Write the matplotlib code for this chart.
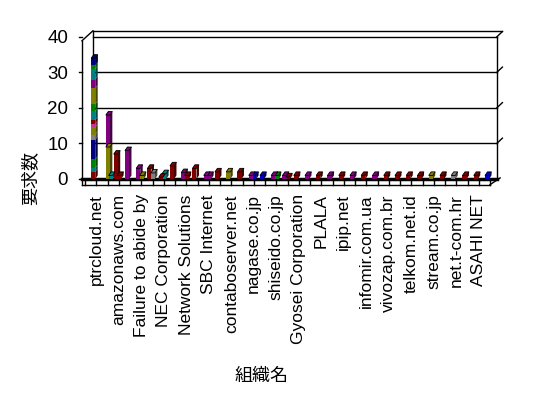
import matplotlib
matplotlib.use('Agg')
import matplotlib.pyplot as plt
from matplotlib.patches import Polygon

# category labels (only every second category carries a label)
labels = ['ptrcloud.net', 'amazonaws.com', 'Failure to abide by', 'NEC Corporation',
          'Network Solutions', 'SBC Internet', 'contaboserver.net', 'nagase.co.jp',
          'shiseido.co.jp', 'Gyosei Corporation', 'PLALA', 'ipip.net',
          'infomir.com.ua', 'vivozap.com.br', 'telkom.net.id', 'stream.co.jp',
          'net.t-com.hr', 'ASAHI NET']

# excel-like palette
PAL = {'navy': '#000080', 'teal': '#008080', 'green': '#008000', 'olive': '#808000',
       'purple': '#800080', 'red': '#800000', 'gray': '#808080', 'pink': '#cc3399',
       'blue': '#0000c0'}

# first category is a stacked column (bottom -> top)
stack_vals = [2, 1, 2.5, 5.5, 1.5, 2, 1, 1, 2.5, 2, 4.5, 2.5, 3, 1, 2]
stack_cols = ['red', 'teal', 'green', 'navy', 'gray', 'olive', 'pink', 'red',
              'teal', 'green', 'olive', 'purple', 'teal', 'green', 'navy']

# second category: two stacked segments
cat1_vals = [9, 9]
cat1_cols = ['olive', 'purple']

# remaining categories: main bar + small extra bar behind it
main_vals = [7, 8, 3, 3, 0.5, 3.7, 1.8, 3, 1, 2, 2, 2,
             1, 1, 1, 1, 1, 1, 1, 1, 1, 1, 1, 1, 1, 1, 1, 1, 1, 1, 1, 1, 1, 1]
main_cols = ['red', 'purple', 'purple', 'red', 'red', 'red', 'purple', 'red', 'purple', 'red', 'olive', 'red',
             'purple', 'blue', 'purple', 'purple', 'red', 'purple', 'red', 'purple', 'red', 'purple',
             'red', 'purple', 'red', 'red', 'red', 'red', 'olive', 'red', 'gray', 'red', 'red', 'blue']
extra_vals = [1, 0, 1, 1.7, 1.5, 0, 1, 0, 1, 0, 0, 0,
              1, 0, 1, 0.6, 0, 0, 0, 0, 0, 0, 0, 0, 0, 0, 0, 0, 0, 0, 0, 0, 0, 0]
extra_cols = ['red', 'red', 'olive', 'gray', 'teal', 'red', 'red', 'red', 'purple', 'red', 'red', 'red',
              'blue', 'red', 'green', 'red', 'red', 'red', 'red', 'red', 'red', 'red',
              'red', 'red', 'red', 'red', 'red', 'red', 'red', 'red', 'red', 'red', 'red', 'red']

N_CAT = 36
BW = 0.36     # bar front width
DX = 0.22     # bar depth, x
DY = 1.0      # bar depth, y


def shade(c, f=0.55):
    r, g, b = matplotlib.colors.to_rgb(c)
    return (r * f, g * f, b * f)


def bar3d(ax, x, bottom, h, color, top=True):
    col = PAL[color]
    t = bottom + h
    ax.add_patch(Polygon([(x + BW, bottom), (x + BW + DX, bottom + DY),
                          (x + BW + DX, t + DY), (x + BW, t)],
                         closed=True, fc=shade(col), ec='none', zorder=3))
    ax.bar(x, h, width=BW, bottom=bottom, align='edge', color=col, zorder=4)
    if top:
        ax.add_patch(Polygon([(x, t), (x + DX, t + DY), (x + BW + DX, t + DY), (x + BW, t)],
                             closed=True, fc=col, ec='black', lw=0.6, zorder=5))


fig = plt.figure(figsize=(5.48, 3.98), dpi=100)
ax = fig.add_axes([75 / 548, 208 / 398, 430 / 548, 162 / 398])
ax.set_xlim(-0.889, 37.33)
ax.set_ylim(-3.1, 42.5)
for s in ax.spines.values():
    s.set_visible(False)

# walls and grid
k = dict(color='black', lw=1, zorder=1)
for g in [10, 20, 30, 40]:
    ax.plot([0.7, 36.6], [g, g], **k)
    ax.plot([36.6, 37.1], [g, g + 1.5], **k)
ax.plot([0.7, 37.1], [41.7, 41.7], **k)
ax.plot([0.7, 0.7], [0, 41.7], **k)
ax.plot([36.6, 36.6], [0, 40], **k)
ax.plot([-0.27, -0.27], [-1.6, 38.9], **k)
ax.plot([-0.27, 0.7], [38.9, 41.7], **k)
for g in [0, 10, 20, 30, 40]:
    ax.plot([-0.5, -0.27], [g, g], **k)

# floor
ax.plot([-0.27, 36.6], [0, 0], color='black', lw=2.5, zorder=2)
ax.plot([-0.27, 36.0], [-1.6, -1.6], color='black', lw=1, zorder=2)
for i in range(N_CAT + 1):
    ax.plot([i, i], [-1.6, 0], color='black', lw=1, zorder=2)
ax.plot([36.0, 36.9], [-1.6, 0.3], color='black', lw=1, zorder=2)

# bars
x0 = 0.55
b = 0
for v, c in zip(stack_vals, stack_cols):
    bar3d(ax, x0, b, v, c, top=False)
    b += v
bar3d(ax, x0, b - stack_vals[-1], stack_vals[-1], stack_cols[-1])

b = 0
for v, c in zip(cat1_vals, cat1_cols):
    bar3d(ax, 1 + x0 + 0.3, b, v, c, top=(v == cat1_vals[-1]))
    b += v
bar3d(ax, 1 + x0 + 0.55, 0, 1, 'teal')

for i in range(2, N_CAT):
    j = i - 2
    if extra_vals[j] > 0:
        bar3d(ax, i + 0.85, 0, extra_vals[j], extra_cols[j])
    bar3d(ax, i + 0.55, 0, main_vals[j], main_cols[j])

ax.set_yticks([0, 10, 20, 30, 40])
ax.set_yticklabels(['0', '10', '20', '30', '40'], fontsize=13.5, family='Liberation Sans')
ax.set_xticks([2 * k_ + 1.0 for k_ in range(len(labels))])
ax.set_xticklabels(labels, rotation=90, fontsize=12.5, family='Liberation Sans', va='top')
ax.tick_params(length=0, pad=3)
ax.tick_params(axis='y', pad=5)

fig.text(262 / 548, 1 - 376 / 398, '組織名', ha='center', va='center',
         fontsize=13, family=['Noto Sans CJK JP', 'DejaVu Sans'])
fig.text(30 / 548, 1 - 178 / 398, '要求数', ha='center', va='center', rotation=90,
         fontsize=13, family=['Noto Sans CJK JP', 'DejaVu Sans'])

plt.savefig('out.png', dpi=100)
